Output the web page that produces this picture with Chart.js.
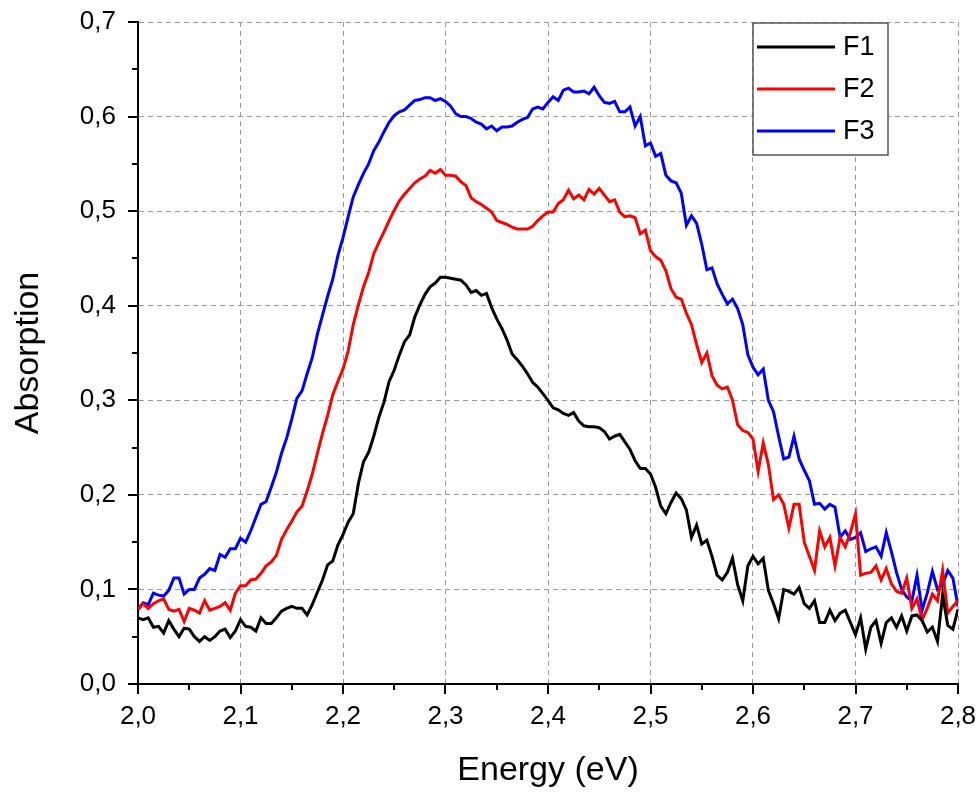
<!DOCTYPE html>
<html>
<head>
<meta charset="utf-8">
<script src="https://cdn.jsdelivr.net/npm/chart.js@4.4.1/dist/chart.umd.min.js"></script>
<style>
  html, body { margin: 0; padding: 0; background: #fff; }
  #wrap { width: 980px; height: 792px; }
</style>
</head>
<body>
<div id="wrap"><canvas id="absChart" width="980" height="792"></canvas></div>
<script>
// Energie (eV), pas de 0,005
const energy = [
  2.000, 2.005, 2.010, 2.015, 2.020, 2.025, 2.030, 2.035, 2.040, 2.045,
  2.050, 2.055, 2.060, 2.065, 2.070, 2.075, 2.080, 2.085, 2.090, 2.095,
  2.100, 2.105, 2.110, 2.115, 2.120, 2.125, 2.130, 2.135, 2.140, 2.145,
  2.150, 2.155, 2.160, 2.165, 2.170, 2.175, 2.180, 2.185, 2.190, 2.195,
  2.200, 2.205, 2.210, 2.215, 2.220, 2.225, 2.230, 2.235, 2.240, 2.245,
  2.250, 2.255, 2.260, 2.265, 2.270, 2.275, 2.280, 2.285, 2.290, 2.295,
  2.300, 2.305, 2.310, 2.315, 2.320, 2.325, 2.330, 2.335, 2.340, 2.345,
  2.350, 2.355, 2.360, 2.365, 2.370, 2.375, 2.380, 2.385, 2.390, 2.395,
  2.400, 2.405, 2.410, 2.415, 2.420, 2.425, 2.430, 2.435, 2.440, 2.445,
  2.450, 2.455, 2.460, 2.465, 2.470, 2.475, 2.480, 2.485, 2.490, 2.495,
  2.500, 2.505, 2.510, 2.515, 2.520, 2.525, 2.530, 2.535, 2.540, 2.545,
  2.550, 2.555, 2.560, 2.565, 2.570, 2.575, 2.580, 2.585, 2.590, 2.595,
  2.600, 2.605, 2.610, 2.615, 2.620, 2.625, 2.630, 2.635, 2.640, 2.645,
  2.650, 2.655, 2.660, 2.665, 2.670, 2.675, 2.680, 2.685, 2.690, 2.695,
  2.700, 2.705, 2.710, 2.715, 2.720, 2.725, 2.730, 2.735, 2.740, 2.745,
  2.750, 2.755, 2.760, 2.765, 2.770, 2.775, 2.780, 2.785, 2.790, 2.795,
  2.800
];

const f1 = [
  0.070, 0.068, 0.070, 0.060, 0.061, 0.054, 0.067, 0.058, 0.050, 0.059,
  0.058, 0.050, 0.045, 0.050, 0.046, 0.050, 0.056, 0.058, 0.049, 0.056,
  0.068, 0.061, 0.060, 0.056, 0.070, 0.064, 0.064, 0.070, 0.077, 0.080,
  0.082, 0.080, 0.080, 0.073, 0.084, 0.097, 0.110, 0.126, 0.130, 0.147,
  0.158, 0.171, 0.180, 0.212, 0.235, 0.245, 0.262, 0.282, 0.298, 0.320,
  0.332, 0.348, 0.362, 0.369, 0.388, 0.401, 0.412, 0.420, 0.424, 0.430,
  0.430, 0.429, 0.428, 0.427, 0.422, 0.414, 0.416, 0.411, 0.413, 0.398,
  0.386, 0.376, 0.364, 0.349, 0.343, 0.336, 0.328, 0.319, 0.314, 0.307,
  0.300, 0.292, 0.290, 0.286, 0.284, 0.287, 0.278, 0.273, 0.272, 0.272,
  0.271, 0.267, 0.259, 0.262, 0.264, 0.256, 0.248, 0.236, 0.228, 0.228,
  0.222, 0.208, 0.188, 0.180, 0.192, 0.202, 0.196, 0.184, 0.155, 0.168,
  0.148, 0.152, 0.135, 0.115, 0.110, 0.118, 0.133, 0.105, 0.088, 0.125,
  0.135, 0.127, 0.133, 0.099, 0.085, 0.069, 0.100, 0.098, 0.095, 0.102,
  0.085, 0.080, 0.088, 0.065, 0.065, 0.078, 0.067, 0.075, 0.078, 0.065,
  0.052, 0.070, 0.037, 0.060, 0.067, 0.043, 0.065, 0.070, 0.060, 0.072,
  0.056, 0.072, 0.073, 0.067, 0.055, 0.060, 0.045, 0.094, 0.062, 0.058,
  0.079
];

const f2 = [
  0.079, 0.085, 0.080, 0.085, 0.088, 0.090, 0.079, 0.077, 0.079, 0.066,
  0.080, 0.078, 0.075, 0.088, 0.078, 0.080, 0.082, 0.086, 0.078, 0.096,
  0.104, 0.104, 0.110, 0.111, 0.117, 0.125, 0.129, 0.136, 0.153, 0.163,
  0.172, 0.182, 0.188, 0.204, 0.222, 0.244, 0.265, 0.284, 0.306, 0.320,
  0.333, 0.352, 0.380, 0.401, 0.420, 0.435, 0.455, 0.467, 0.478, 0.490,
  0.501, 0.511, 0.518, 0.524, 0.530, 0.534, 0.537, 0.543, 0.540, 0.544,
  0.538, 0.538, 0.537, 0.531, 0.527, 0.514, 0.510, 0.507, 0.503, 0.499,
  0.490, 0.488, 0.486, 0.483, 0.481, 0.481, 0.481, 0.484, 0.490, 0.495,
  0.499, 0.499, 0.508, 0.512, 0.522, 0.513, 0.517, 0.512, 0.523, 0.518,
  0.524, 0.517, 0.510, 0.512, 0.499, 0.494, 0.495, 0.493, 0.476, 0.480,
  0.458, 0.452, 0.448, 0.437, 0.418, 0.409, 0.407, 0.392, 0.380, 0.359,
  0.340, 0.350, 0.326, 0.316, 0.312, 0.314, 0.300, 0.274, 0.268, 0.266,
  0.259, 0.225, 0.255, 0.232, 0.195, 0.200, 0.190, 0.165, 0.190, 0.190,
  0.150, 0.135, 0.120, 0.162, 0.145, 0.155, 0.125, 0.155, 0.145, 0.160,
  0.180, 0.115, 0.117, 0.118, 0.125, 0.110, 0.122, 0.106, 0.098, 0.096,
  0.112, 0.080, 0.090, 0.068, 0.080, 0.095, 0.088, 0.120, 0.075, 0.082,
  0.088
];

const f3 = [
  0.079, 0.086, 0.084, 0.096, 0.094, 0.093, 0.099, 0.112, 0.112, 0.095,
  0.100, 0.100, 0.112, 0.116, 0.122, 0.120, 0.137, 0.134, 0.143, 0.143,
  0.154, 0.150, 0.162, 0.176, 0.190, 0.193, 0.208, 0.224, 0.244, 0.260,
  0.280, 0.302, 0.310, 0.328, 0.345, 0.370, 0.390, 0.410, 0.428, 0.453,
  0.472, 0.494, 0.515, 0.528, 0.540, 0.550, 0.564, 0.573, 0.584, 0.594,
  0.601, 0.605, 0.607, 0.612, 0.617, 0.618, 0.620, 0.620, 0.617, 0.619,
  0.616, 0.611, 0.603, 0.600, 0.600, 0.598, 0.594, 0.592, 0.587, 0.590,
  0.585, 0.589, 0.589, 0.590, 0.594, 0.597, 0.599, 0.608, 0.610, 0.608,
  0.615, 0.621, 0.617, 0.628, 0.630, 0.626, 0.626, 0.627, 0.624, 0.631,
  0.622, 0.615, 0.614, 0.616, 0.605, 0.605, 0.610, 0.590, 0.600, 0.569,
  0.572, 0.558, 0.561, 0.538, 0.532, 0.530, 0.519, 0.485, 0.495, 0.487,
  0.465, 0.438, 0.440, 0.423, 0.412, 0.402, 0.407, 0.397, 0.380, 0.348,
  0.335, 0.327, 0.333, 0.300, 0.288, 0.262, 0.238, 0.240, 0.262, 0.238,
  0.226, 0.215, 0.190, 0.191, 0.185, 0.190, 0.187, 0.155, 0.162, 0.153,
  0.155, 0.160, 0.140, 0.143, 0.145, 0.135, 0.160, 0.140, 0.118, 0.100,
  0.092, 0.088, 0.115, 0.078, 0.096, 0.119, 0.100, 0.105, 0.120, 0.112,
  0.082
];

const seriesNames = ['F1', 'F2', 'F3'];
const seriesColors = ['#000000', '#ff0000', '#0000ff'];
const seriesValues = [f1, f2, f3];

const fontFamily = '"Liberation Sans", Arial, sans-serif';
const comma = v => v.toFixed(1).replace('.', ',');

// Graduations noires (majeures + mineures) vers l'extérieur
const tickMarks = {
  id: 'tickMarks',
  afterDraw(chart) {
    const ctx = chart.ctx;
    const xs = chart.scales.x, ys = chart.scales.y;
    const area = chart.chartArea;
    ctx.save();
    ctx.strokeStyle = '#000';
    ctx.lineWidth = 2;
    ctx.beginPath();
    for (let i = 0; i <= 16; i++) {
      const v = xs.min + i * 0.05;
      const px = Math.round(xs.getPixelForValue(v));
      const len = i % 2 === 0 ? 10 : 6;
      ctx.moveTo(px, area.bottom);
      ctx.lineTo(px, area.bottom + len);
    }
    for (let i = 0; i <= 14; i++) {
      const v = ys.min + i * 0.05;
      const py = Math.round(ys.getPixelForValue(v));
      const len = i % 2 === 0 ? 10 : 6;
      ctx.moveTo(area.left, py);
      ctx.lineTo(area.left - len, py);
    }
    ctx.stroke();
    ctx.restore();
  }
};

// Légende encadrée en haut à droite
const boxLegend = {
  id: 'boxLegend',
  afterDatasetsDraw(chart) {
    const ctx = chart.ctx;
    const x0 = 753, y0 = 23, w = 135, h = 132;
    ctx.save();
    ctx.fillStyle = '#fff';
    ctx.fillRect(x0, y0, w, h);
    ctx.strokeStyle = '#555';
    ctx.lineWidth = 1.5;
    ctx.strokeRect(x0, y0, w, h);
    ctx.font = '27px ' + fontFamily;
    ctx.textBaseline = 'middle';
    chart.data.datasets.forEach((ds, i) => {
      const y = y0 + 24 + i * 42;
      ctx.strokeStyle = ds.borderColor;
      ctx.lineWidth = 3;
      ctx.beginPath();
      ctx.moveTo(x0 + 4, y);
      ctx.lineTo(x0 + 82, y);
      ctx.stroke();
      ctx.fillStyle = '#000';
      ctx.fillText(ds.label, x0 + 90, y + 1);
    });
    ctx.restore();
  }
};

const ctx = document.getElementById('absChart').getContext('2d');
new Chart(ctx, {
  type: 'line',
  data: {
    datasets: seriesValues.map((vals, i) => ({
      label: seriesNames[i],
      data: energy.map((e, k) => ({ x: e, y: vals[k] })),
      borderColor: seriesColors[i],
      borderWidth: 3,
      pointRadius: 0,
      tension: 0,
      fill: false
    }))
  },
  options: {
    responsive: false,
    animation: false,
    layout: { padding: { left: 0, right: 22, top: 22, bottom: 0 } },
    plugins: {
      legend: { display: false },
      tooltip: { enabled: false }
    },
    scales: {
      x: {
        type: 'linear',
        min: 2.0,
        max: 2.8,
        afterFit: s => { s.height = 108; s.paddingLeft = 0; s.paddingRight = 0; },
        ticks: {
          stepSize: 0.1,
          padding: 17,
          color: '#000',
          font: { family: fontFamily, size: 26 },
          callback: v => comma(v)
        },
        grid: { color: '#999', lineWidth: 1, drawTicks: false },
        border: { color: '#000', width: 2, dash: [5, 4] },
        title: {
          display: true,
          text: 'Energy (eV)',
          color: '#000',
          font: { family: fontFamily, size: 34 },
          padding: { top: 0, bottom: 1 }
        }
      },
      y: {
        min: 0,
        max: 0.7,
        afterFit: s => { s.width = 138; s.paddingTop = 0; s.paddingBottom = 0; },
        ticks: {
          stepSize: 0.1,
          padding: 22,
          color: '#000',
          font: { family: fontFamily, size: 26 },
          callback: v => comma(v)
        },
        grid: { color: '#999', lineWidth: 1, drawTicks: false },
        border: { color: '#000', width: 2, dash: [5, 4] },
        title: {
          display: true,
          text: 'Absorption',
          color: '#000',
          font: { family: fontFamily, size: 34 },
          padding: { top: 8, bottom: 0 }
        }
      }
    }
  },
  plugins: [tickMarks, boxLegend]
});
</script>
</body>
</html>
